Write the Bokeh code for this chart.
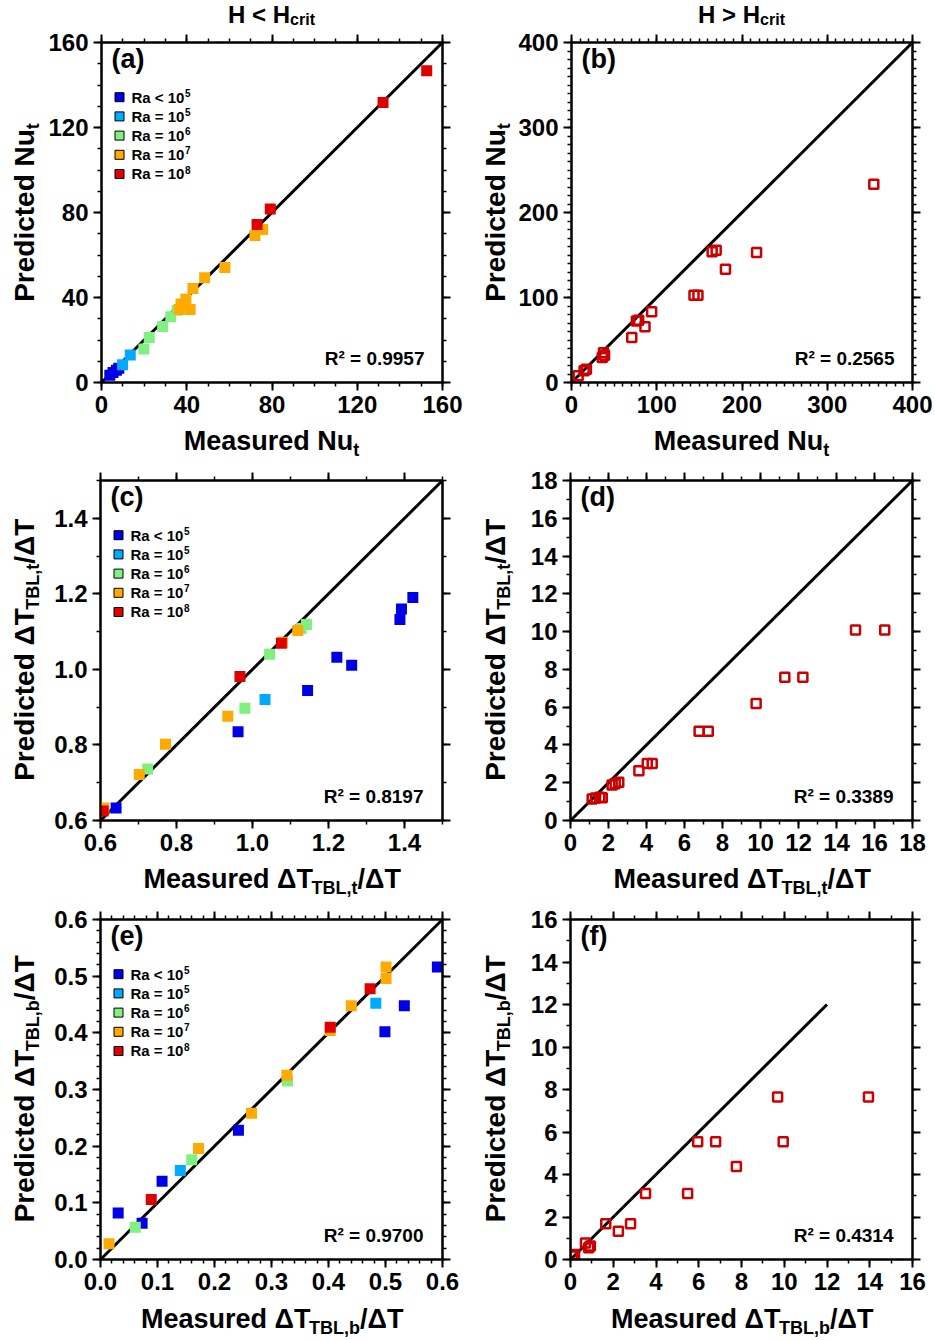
import math
import numpy as np
from bokeh.plotting import figure
from bokeh.models import Label, LinearAxis, FixedTicker, Range1d, BoxAnnotation
from bokeh.layouts import column, row
from bokeh.embed import file_html
from bokeh.resources import INLINE

# ---------------- data ----------------
RA_MAIN = ["Ra < 10", "Ra = 10", "Ra = 10", "Ra = 10", "Ra = 10"]
RA_EXP = ["5", "5", "6", "7", "8"]

# (a) Nu_t, H < Hcrit  (class index 0..4 -> Ra class)
a_meas = [3.9, 5.4, 7.0, 8.1, 9.9, 13.5, 19.9, 22.4, 28.7, 32.5, 35.5,
          36.5, 41.6, 37.3, 39.6, 42.9, 48.4, 57.9, 72.0, 75.6,
          73.0, 79.2, 132.1, 152.6]
a_pred = [3.4, 4.7, 5.8, 6.7, 8.3, 13.0, 15.8, 21.2, 26.4, 30.9, 34.0,
          34.4, 34.4, 36.9, 39.2, 44.2, 49.3, 54.1, 69.2, 72.0,
          74.4, 81.6, 131.8, 146.7]
a_ra = [0, 0, 0, 0, 1, 1, 2, 2, 2, 2, 2,
        3, 3, 3, 3, 3, 3, 3, 3, 3,
        4, 4, 4, 4]

# (b) Nu_t, H > Hcrit
b_meas = [7.8, 14.8, 17.5, 36.1, 38.8, 37.5, 70.7, 76.1, 78.8, 86.2, 94.0,
          143.7, 148.3, 165.0, 169.7, 180.6, 217.1, 354.6]
b_pred = [7.8, 13.7, 15.7, 29.4, 32.2, 35.0, 52.9, 72.5, 73.3, 65.5, 83.1,
          102.7, 102.7, 153.7, 155.7, 133.3, 152.9, 233.3]

# (c) dT_TBL,t / dT, H < Hcrit
c_meas = [0.641, 0.962, 1.145, 1.222, 1.261, 1.388, 1.392, 1.422,
          1.033,
          0.724, 0.980, 1.045, 1.128, 1.142,
          0.609, 0.702, 0.771, 0.935, 1.079, 1.119,
          0.607, 0.967, 1.076]
c_pred = [0.633, 0.835, 0.944, 1.032, 1.011, 1.132, 1.160, 1.190,
          0.920,
          0.736, 0.897, 1.040, 1.108, 1.119,
          0.633, 0.722, 0.802, 0.876, 1.072, 1.103,
          0.625, 0.981, 1.069]
c_ra = [0, 0, 0, 0, 0, 0, 0, 0,
        1,
        2, 2, 2, 2, 2,
        3, 3, 3, 3, 3, 3,
        4, 4, 4]

# (d) dT_TBL,t / dT, H > Hcrit
d_meas = [1.14, 1.32, 1.54, 1.67, 2.19, 2.35, 2.54, 3.60, 4.04, 4.30,
          6.77, 7.25, 9.77, 11.28, 12.23, 15.00, 16.54]
d_pred = [1.14, 1.19, 1.23, 1.20, 1.88, 1.95, 2.02, 2.63, 3.02, 3.02,
          4.72, 4.72, 6.19, 7.58, 7.58, 10.09, 10.09]

# (e) dT_TBL,b / dT, H < Hcrit
e_meas = [0.031, 0.073, 0.108, 0.242, 0.499, 0.533, 0.591,
          0.140, 0.483,
          0.061, 0.160, 0.328,
          0.015, 0.172, 0.265, 0.327, 0.403, 0.440, 0.501, 0.501,
          0.089, 0.403, 0.473]
e_pred = [0.082, 0.064, 0.138, 0.228, 0.402, 0.448, 0.516,
          0.157, 0.452,
          0.057, 0.176, 0.315,
          0.028, 0.196, 0.258, 0.325, 0.404, 0.448, 0.496, 0.516,
          0.106, 0.410, 0.478]
e_ra = [0, 0, 0, 0, 0, 0, 0,
        1, 1,
        2, 2, 2,
        3, 3, 3, 3, 3, 3, 3, 3,
        4, 4, 4]

# (f) dT_TBL,b / dT, H > Hcrit
f_meas = [0.08, 0.19, 0.70, 0.85, 0.93, 1.65, 2.24, 2.81, 3.51, 5.48,
          5.95, 6.79, 7.76, 9.69, 9.95, 13.94]
f_pred = [0.16, 0.24, 0.78, 0.55, 0.63, 1.68, 1.33, 1.68, 3.11, 3.11,
          5.54, 5.54, 4.38, 7.65, 5.54, 7.65]

R2 = ["0.9957", "0.2565", "0.8197", "0.3389", "0.9700", "0.4314"]
PANEL_TAGS = ["(a)", "(b)", "(c)", "(d)", "(e)", "(f)"]

# axis ranges / ticks / tick labels
a_range = [0, 160]; a_ticks = [0, 40, 80, 120, 160]; a_labels = ["0", "40", "80", "120", "160"]; a_minor_step = 10
b_range = [0, 400]; b_ticks = [0, 100, 200, 300, 400]; b_labels = ["0", "100", "200", "300", "400"]; b_minor_step = 10
c_range = [0.6, 1.5]; c_ticks = [0.6, 0.8, 1.0, 1.2, 1.4]; c_labels = ["0.6", "0.8", "1.0", "1.2", "1.4"]; c_minor_step = 0.1
d_range = [0, 18]; d_ticks = [0, 2, 4, 6, 8, 10, 12, 14, 16, 18]
d_labels = ["0", "2", "4", "6", "8", "10", "12", "14", "16", "18"]; d_minor_step = 1
e_range = [0, 0.6]; e_ticks = [0.0, 0.1, 0.2, 0.3, 0.4, 0.5, 0.6]
e_labels = ["0.0", "0.1", "0.2", "0.3", "0.4", "0.5", "0.6"]; e_minor_step = 0.02
f_range = [0, 16]; f_ticks = [0, 2, 4, 6, 8, 10, 12, 14, 16]
f_labels = ["0", "2", "4", "6", "8", "10", "12", "14", "16"]; f_minor_step = 1
f_line = [0, 12]

# ---------------- style ----------------
COLORS = ["#0000e6", "#00aaff", "#80f080", "#ffaa00", "#e00000"]
OPEN_RED = "#cc0000"
FONT = "Liberation Sans"
FW, FH = 342, 340
TOP_B, BOT_B = 14, 43
PLOT_H = TOP_B + FH + BOT_B
KB = 0.36   # measured offset between label anchor and drawn baseline (in em)

W = {'M': 833, 'e': 556, 'a': 556, 's': 556, 'u': 611, 'r': 389, 'd': 611, ' ': 278,
     'N': 722, 't': 333, 'P': 667, 'i': 278, 'c': 556, '\u0394': 667, 'T': 611,
     'B': 722, 'L': 611, ',': 278, 'b': 611, '/': 278, 'H': 722, '<': 584, '>': 584,
     'R': 722, '=': 584, '0': 556, '1': 556}


def text_w(s, size):
    return sum(W.get(ch, 556) for ch in s) / 1000.0 * size


def label(p, x, y, text, size, align="left", baseline="alphabetic", angle=0.0):
    p.add_layout(Label(x=x, y=y, x_units="screen", y_units="screen", text=text,
                       angle=angle, text_align=align, text_baseline=baseline,
                       text_font=FONT, text_font_style="bold",
                       text_font_size=f"{size}px", text_color="black"))


def base_label(p, x, y, text, size, align="left", vertical=False):
    """place text so that its baseline lies at (x or y)"""
    if vertical:
        label(p, x - KB * size, y, text, size, align=align, angle=math.pi / 2)
    else:
        label(p, x, y + KB * size, text, size, align=align)


def rich(p, parts, cx, cy, vertical=False):
    total = sum(text_w(t, s) for t, s, d in parts)
    pos = -total / 2.0
    for t, s, d in parts:
        if vertical:
            base_label(p, cx + d, cy + pos, t, s, vertical=True)
        else:
            base_label(p, cx + pos, cy - d, t, s)
        pos += text_w(t, s)


def text_fig(w, h):
    p = figure(width=w, height=h, x_range=Range1d(0, 1), y_range=Range1d(0, 1),
               x_axis_location=None, y_axis_location=None, title=None,
               output_backend="svg", toolbar_location=None, min_border=0)
    p.grid.visible = False
    p.outline_line_color = None
    p.background_fill_color = "white"
    p.border_fill_color = "white"
    return p


def style_axis(ax, show, ticks, labels):
    ax.axis_line_width = 2
    ax.axis_line_color = "black"
    ax.major_tick_out = 8
    ax.major_tick_in = 0
    ax.major_tick_line_width = 2
    ax.minor_tick_out = 4
    ax.minor_tick_in = 0
    ax.minor_tick_line_width = 1.5
    ax.major_label_text_font = FONT
    ax.major_label_text_font_style = "bold"
    if show:
        ax.major_label_standoff = 5
        ax.major_label_text_font_size = "24px"
        ax.major_label_text_color = "black"
        ax.major_label_overrides = {t: l for t, l in zip(ticks, labels)}
    else:
        ax.major_label_standoff = 0
        ax.major_label_text_font_size = "1px"
        ax.major_label_text_color = None


def make_fig(rng, ticks, labels, minor_step, left, right):
    p = figure(width=left + FW + right, height=PLOT_H,
               x_range=Range1d(*rng), y_range=Range1d(*rng),
               x_axis_location=None, y_axis_location=None, title=None,
               output_backend="svg", toolbar_location=None,
               min_border_left=left, min_border_right=right,
               min_border_top=TOP_B, min_border_bottom=BOT_B)
    p.grid.visible = False
    p.outline_line_color = "black"
    p.outline_line_width = 2
    p.background_fill_color = "white"
    p.border_fill_color = "white"
    minor = list(np.round(np.arange(rng[0], rng[1] + minor_step / 2, minor_step), 6))
    for loc, show in [("below", True), ("above", False), ("left", True), ("right", False)]:
        ax = LinearAxis(ticker=FixedTicker(ticks=ticks, minor_ticks=minor))
        style_axis(ax, show, ticks, labels)
        p.add_layout(ax, loc)
    return p


def add_inside(p, idx):
    label(p, 10, 339, PANEL_TAGS[idx], 27, baseline="top")
    base_label(p, FW - 19, 17, "R\u00b2 = " + R2[idx], 19, align="right")


def add_classes(p, xs, ys, cls):
    xs = np.array(xs); ys = np.array(ys); cls = np.array(cls)
    for k in range(5):
        m = cls == k
        p.scatter(xs[m], ys[m], marker="square", size=11,
                  fill_color=COLORS[k], line_color=None)
    # legend (keys + text with superscript exponents)
    for k in range(5):
        cy = 285.3 - 19.2 * k
        p.add_layout(BoxAnnotation(left=13.5, right=22.5, bottom=cy - 4.5, top=cy + 4.5,
                                   left_units="screen", right_units="screen",
                                   bottom_units="screen", top_units="screen",
                                   fill_color=COLORS[k], fill_alpha=1.0,
                                   line_color="black", line_width=1, line_alpha=1.0))
        base_label(p, 30, cy - 5.3, RA_MAIN[k], 15)
        base_label(p, 30 + text_w(RA_MAIN[k], 15) + 0.5, cy + 0.8, RA_EXP[k], 10)


def add_open(p, xs, ys):
    p.scatter(xs, ys, marker="square", size=9, fill_color=None,
              line_color=OPEN_RED, line_width=2.5)


NU_X = [("Measured Nu", 27, 0), ("t", 18, 6)]
NU_Y = [("Predicted Nu", 28, 0), ("t", 18, 5)]
TT_X = [("Measured \u0394T", 27, 0), ("TBL,t", 18, 6), ("/\u0394T", 27, 0)]
TT_Y = [("Predicted \u0394T", 28, 0), ("TBL,t", 18, 5), ("/\u0394T", 28, 0)]
TB_X = [("Measured \u0394T", 27, 0), ("TBL,b", 18, 6), ("/\u0394T", 27, 0)]
TB_Y = [("Predicted \u0394T", 28, 0), ("TBL,b", 18, 5), ("/\u0394T", 28, 0)]

YL_W_L, YL_W_R = 45, 51
LB, RB_L, RB_R = 55, 22, 21
CELL_W_L = YL_W_L + LB + FW + RB_L       # 464
CELL_W_R = YL_W_R + LB + FW + RB_R       # 469
CX_L = YL_W_L + LB + FW / 2.0
CX_R = YL_W_R + LB + FW / 2.0
YL_BASE_L, YL_BASE_R = 34, 41
YC = FH / 2.0   # y-label figure frame is aligned to the plot frame inside a row
TITLE_H = 28


def cell(plot, left_side, xparts, yparts, xlab_h, xlab_base, title_parts=None):
    yw = YL_W_L if left_side else YL_W_R
    cw = CELL_W_L if left_side else CELL_W_R
    cx = CX_L if left_side else CX_R
    ylab = text_fig(yw, PLOT_H)
    rich(ylab, yparts, YL_BASE_L if left_side else YL_BASE_R, YC, vertical=True)
    xlab = text_fig(cw, xlab_h)
    rich(xlab, xparts, cx, xlab_base)
    kids = []
    if title_parts is not None:
        tfig = text_fig(cw, TITLE_H)
        rich(tfig, title_parts, cx, 5.6)
        kids.append(tfig)
    kids.append(row(ylab, plot))
    kids.append(xlab)
    return column(*kids)


# row 1
pa = make_fig(a_range, a_ticks, a_labels, a_minor_step, LB, RB_L)
pa.line(a_range, a_range, line_color="black", line_width=3)
add_classes(pa, a_meas, a_pred, a_ra)
add_inside(pa, 0)

pb = make_fig(b_range, b_ticks, b_labels, b_minor_step, LB, RB_R)
pb.line(b_range, b_range, line_color="black", line_width=3)
add_open(pb, b_meas, b_pred)
add_inside(pb, 1)

# row 2
pc = make_fig(c_range, c_ticks, c_labels, c_minor_step, LB, RB_L)
pc.line(c_range, c_range, line_color="black", line_width=3)
add_classes(pc, c_meas, c_pred, c_ra)
add_inside(pc, 2)

pd_ = make_fig(d_range, d_ticks, d_labels, d_minor_step, LB, RB_R)
pd_.line(d_range, d_range, line_color="black", line_width=3)
add_open(pd_, d_meas, d_pred)
add_inside(pd_, 3)

# row 3
pe = make_fig(e_range, e_ticks, e_labels, e_minor_step, LB, RB_L)
pe.line(e_range, e_range, line_color="black", line_width=3)
add_classes(pe, e_meas, e_pred, e_ra)
add_inside(pe, 4)

pf = make_fig(f_range, f_ticks, f_labels, f_minor_step, LB, RB_R)
pf.line(f_line, f_line, line_color="black", line_width=3)
add_open(pf, f_meas, f_pred)
add_inside(pf, 5)

T_L = [("H < H", 24, 0), ("crit", 16, 2)]
T_R = [("H > H", 24, 0), ("crit", 16, 2)]

row1 = row(cell(pa, True, NU_X, NU_Y, 41, 16, T_L), cell(pb, False, NU_X, NU_Y, 41, 16, T_R))
row2 = row(cell(pc, True, TT_X, TT_Y, 42, 17), cell(pd_, False, TT_X, TT_Y, 42, 17))
row3 = row(cell(pe, True, TB_X, TB_Y, 38, 12), cell(pf, False, TB_X, TB_Y, 38, 12))

layout = column(row1, row2, row3)
open("out.html", "w").write(file_html(layout, INLINE))
